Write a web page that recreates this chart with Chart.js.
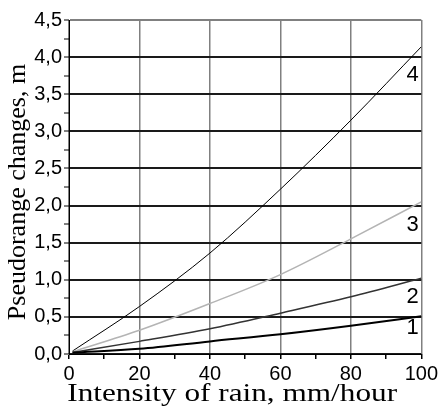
<!DOCTYPE html>
<html>
<head>
<meta charset="utf-8">
<script src="https://cdn.jsdelivr.net/npm/chart.js@4/dist/chart.umd.min.js"></script>
<style>
  html, body { margin: 0; padding: 0; background: #fff; }
  #wrap { width: 441px; height: 408px; position: relative; }
</style>
</head>
<body>
<div id="wrap"><canvas id="rainChart"></canvas></div>
<script>
const rain = [1, 20, 40, 60, 80, 100];
const curve1 = [0.02, 0.07, 0.17, 0.265, 0.38, 0.51];
const curve2 = [0.02, 0.17, 0.34, 0.55, 0.77, 1.02];
const curve3 = [0.03, 0.32, 0.68, 1.07, 1.55, 2.05];
const curve4 = [0.04, 0.64, 1.36, 2.22, 3.15, 4.14];
const curveNames = ["1", "2", "3", "4"];
const nameX = [97.5, 97.5, 97.5, 97.5];
const nameY = [0.35, 0.77, 1.74, 3.76];
const xTitle = "Intensity of rain, mm/hour";
const yTitle = "Pseudorange changes, m";

const toPoints = (ys) => ys.map((y, i) => ({ x: rain[i], y: y }));

// curve numbers and both axis titles
const extraText = {
  id: "extraText",
  afterDraw(chart) {
    const { ctx, scales, chartArea } = chart;
    ctx.save();
    ctx.font = "22px 'Liberation Sans', Arial, sans-serif";
    ctx.fillStyle = "#000";
    ctx.textAlign = "center";
    ctx.textBaseline = "middle";
    curveNames.forEach((n, i) => {
      ctx.fillText(n, scales.x.getPixelForValue(nameX[i]), scales.y.getPixelForValue(nameY[i]));
    });
    ctx.restore();

    ctx.save();
    ctx.font = "25px 'Liberation Serif', 'Times New Roman', serif";
    ctx.fillStyle = "#000";
    ctx.textAlign = "center";
    ctx.textBaseline = "middle";
    ctx.translate((chartArea.left + chartArea.right) / 2 - 13, chartArea.bottom + 40);
    ctx.scale(1.25, 1);
    ctx.fillText(xTitle, 0, 0);
    ctx.restore();

    ctx.save();
    ctx.font = "26px 'Liberation Serif', 'Times New Roman', serif";
    ctx.fillStyle = "#000";
    ctx.textAlign = "center";
    ctx.textBaseline = "middle";
    ctx.translate(18, (chartArea.top + chartArea.bottom) / 2 + 5);
    ctx.rotate(-Math.PI / 2);
    ctx.fillText(yTitle, 0, 0);
    ctx.restore();
  }
};

const canvas = document.getElementById("rainChart");

new Chart(canvas, {
  type: "line",
  data: {
    datasets: [
      { data: toPoints(curve1), borderColor: "#000000", borderWidth: 2 },
      { data: toPoints(curve2), borderColor: "#333333", borderWidth: 1.5 },
      { data: toPoints(curve3), borderColor: "#b4b4b4", borderWidth: 1.5 },
      { data: toPoints(curve4), borderColor: "#000000", borderWidth: 1 }
    ]
  },
  options: {
    responsive: true,
    maintainAspectRatio: false,
    animation: false,
    layout: { padding: { top: 20, right: 14, left: 0, bottom: 0 } },
    elements: {
      point: { radius: 0 },
      line: { cubicInterpolationMode: "monotone" }
    },
    plugins: {
      legend: { display: false },
      tooltip: { enabled: false }
    },
    scales: {
      x: {
        type: "linear",
        min: 0,
        max: 100,
        afterFit: (s) => { s.height = 54; },
        ticks: {
          stepSize: 10,
          autoSkip: false,
          maxRotation: 0,
          padding: 3,
          color: "#000",
          font: { family: "'Liberation Sans', Arial, sans-serif", size: 20 },
          callback: (v) => (v % 20 === 0 ? v : "")
        },
        grid: {
          color: (c) => (c.tick && c.tick.value % 20 === 0 ? "#808080" : "rgba(0,0,0,0)"),
          tickColor: "#000",
          lineWidth: 1.5,
          tickLength: 5
        },
        border: { color: "#000", width: 1 }
      },
      y: {
        min: 0,
        max: 4.5,
        afterFit: (s) => { s.width = 69; },
        ticks: {
          stepSize: 0.25,
          autoSkip: false,
          padding: 2,
          color: "#000",
          font: { family: "'Liberation Sans', Arial, sans-serif", size: 20 },
          callback: (v) => (Math.abs(v * 2 - Math.round(v * 2)) < 1e-6 ? v.toFixed(1).replace(".", ",") : "")
        },
        grid: {
          color: (c) => {
            if (!c.tick) return "rgba(0,0,0,0)";
            const v = c.tick.value;
            if (Math.abs(v - 4.5) < 1e-6) return "#808080";
            return Math.abs(v * 2 - Math.round(v * 2)) < 1e-6 ? "#1a1a1a" : "rgba(0,0,0,0)";
          },
          tickColor: "#000",
          lineWidth: 2,
          tickWidth: 1,
          tickLength: 5
        },
        border: { color: "#000", width: 1 }
      }
    }
  },
  plugins: [extraText]
});
</script>
</body>
</html>
